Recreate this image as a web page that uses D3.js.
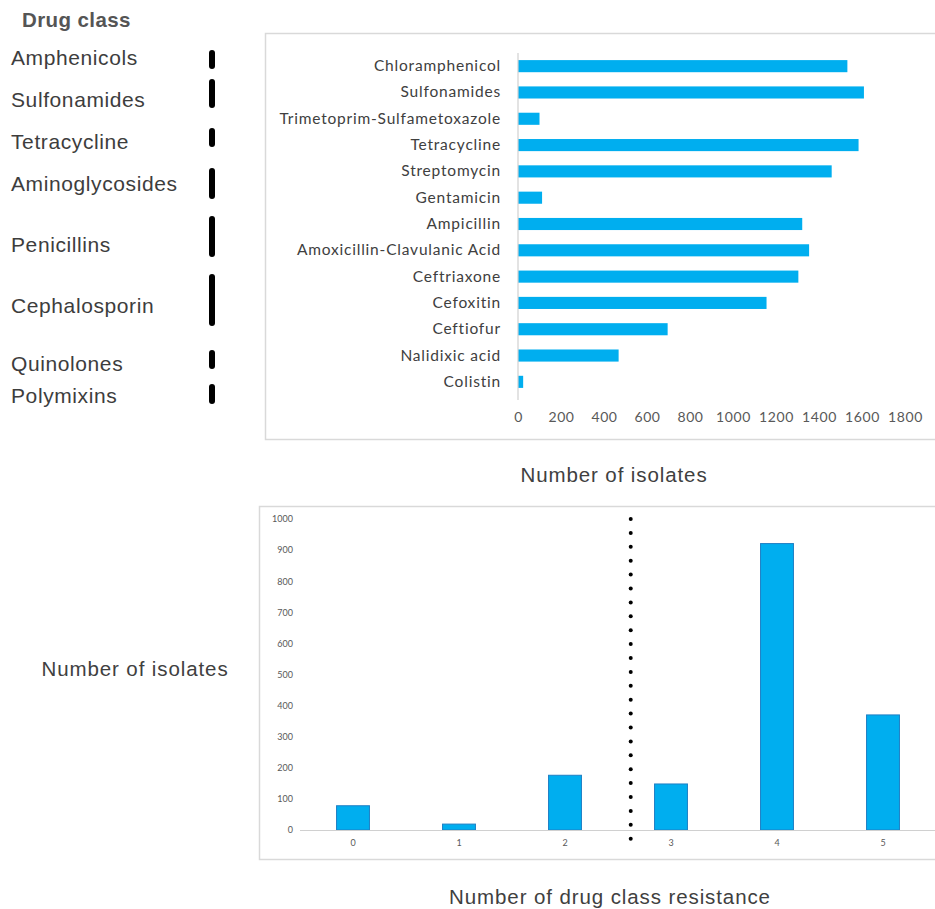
<!DOCTYPE html>
<html>
<head>
<meta charset="utf-8">
<script src="https://cdn.jsdelivr.net/npm/d3@7"></script>
<style>
  html, body { margin: 0; padding: 0; background: #fff; }
  svg { display: block; }
</style>
</head>
<body>
<svg id="chart" width="935" height="909"></svg>
<script>
// ---- Data ----
const drugs = [
  "Chloramphenicol", "Sulfonamides", "Trimetoprim-Sulfametoxazole", "Tetracycline",
  "Streptomycin", "Gentamicin", "Ampicillin", "Amoxicillin-Clavulanic Acid",
  "Ceftriaxone", "Cefoxitin", "Ceftiofur", "Nalidixic acid", "Colistin"
];
const drugIsolates = [1532, 1609, 100, 1584, 1459, 112, 1322, 1354, 1304, 1156, 696, 468, 24];
const drugTicks = [0, 200, 400, 600, 800, 1000, 1200, 1400, 1600, 1800];

const drugClasses = ["Amphenicols", "Sulfonamides", "Tetracycline", "Aminoglycosides",
  "Penicillins", "Cephalosporin", "Quinolones", "Polymixins"];

const resistanceCounts = ["0", "1", "2", "3", "4", "5"];
const resistanceIsolates = [78, 19, 176, 148, 921, 370];
const resistanceTicks = [0, 100, 200, 300, 400, 500, 600, 700, 800, 900, 1000];
const mdrThreshold = 2.62; // dotted separator between 2 and 3 classes

// ---- Layout ----
const BLUE = "#00AEEF";
const svg = d3.select("#chart");
const labelFont = "Lato, 'Open Sans', sans-serif";
const titleFont = "'Liberation Sans', Arial, sans-serif";
const plain = d3.format("d");

// Left-hand drug class key: label baseline and marker extent
const classLayout = [
  { y: 58, top: 50, bottom: 69 },
  { y: 100, top: 79, bottom: 108 },
  { y: 142, top: 128, bottom: 147 },
  { y: 184, top: 168, bottom: 199 },
  { y: 245, top: 216, bottom: 257 },
  { y: 306, top: 274, bottom: 326 },
  { y: 364, top: 350, bottom: 369 },
  { y: 396, top: 384, bottom: 404 }
];

svg.append("text")
  .attr("x", 22).attr("y", 27)
  .attr("font-family", titleFont).attr("font-weight", "bold")
  .attr("font-size", 20.5).attr("letter-spacing", 0.4).attr("fill", "#555")
  .text("Drug class");

const key = svg.append("g");
drugClasses.forEach((name, i) => {
  const l = classLayout[i];
  key.append("text")
    .attr("x", 11).attr("y", l.y).attr("dy", "0.35em")
    .attr("font-family", titleFont).attr("font-size", 21).attr("letter-spacing", 0.6)
    .attr("fill", "#3d3d3d")
    .text(name);
  key.append("line")
    .attr("x1", 212).attr("x2", 212)
    .attr("y1", l.top + 3).attr("y2", l.bottom - 3)
    .attr("stroke", "#000").attr("stroke-width", 6).attr("stroke-linecap", "round");
});

// ---- Top chart: isolates per drug ----
svg.append("rect")
  .attr("x", 265.5).attr("y", 33.5).attr("width", 680).attr("height", 406)
  .attr("fill", "none").attr("stroke", "#d9d9d9").attr("stroke-width", 1.5);

const xTop = d3.scaleLinear().domain([0, 1800]).range([518, 905]);
const yTop = d3.scaleBand().domain(drugs).range([53, 395]).paddingInner(0.54).paddingOuter(0.27);

svg.append("g").selectAll("rect").data(drugs).join("rect")
  .attr("x", xTop(0))
  .attr("y", d => yTop(d))
  .attr("width", (d, i) => xTop(drugIsolates[i]) - xTop(0))
  .attr("height", yTop.bandwidth())
  .attr("fill", BLUE);

svg.append("line")
  .attr("x1", xTop(0)).attr("x2", xTop(0)).attr("y1", 53).attr("y2", 400)
  .attr("stroke", "#d0d0d0").attr("stroke-width", 1.2);

const yAxisTop = svg.append("g")
  .attr("transform", `translate(${xTop(0)},0)`)
  .call(d3.axisLeft(yTop).tickSize(0).tickPadding(17));
yAxisTop.select(".domain").remove();
yAxisTop.selectAll("text")
  .attr("font-family", labelFont).attr("font-size", 15.5).attr("letter-spacing", 0.8)
  .attr("fill", "#404040");

const xAxisTop = svg.append("g")
  .attr("transform", "translate(0,410)")
  .call(d3.axisBottom(xTop).tickValues(drugTicks).tickFormat(plain).tickSize(0).tickPadding(2));
xAxisTop.select(".domain").remove();
xAxisTop.selectAll("text")
  .attr("font-family", labelFont).attr("font-size", 14).attr("letter-spacing", 0.6)
  .attr("fill", "#595959");

svg.append("text")
  .attr("x", 614).attr("y", 482).attr("text-anchor", "middle")
  .attr("font-family", titleFont).attr("font-size", 20.5).attr("letter-spacing", 0.9)
  .attr("fill", "#404040")
  .text("Number of isolates");

// ---- Bottom chart: isolates by number of resistant drug classes ----
svg.append("rect")
  .attr("x", 259.5).attr("y", 506.5).attr("width", 690).attr("height", 353)
  .attr("fill", "none").attr("stroke", "#d9d9d9").attr("stroke-width", 1.5);

const xBot = d3.scaleBand().domain(resistanceCounts).range([300, 936]).paddingInner(0.68).paddingOuter(0.34);
const yBot = d3.scaleLinear().domain([0, 1000]).range([830, 519]);

svg.append("g").selectAll("rect").data(resistanceCounts).join("rect")
  .attr("x", d => xBot(d) + 0.5)
  .attr("y", (d, i) => yBot(resistanceIsolates[i]))
  .attr("width", xBot.bandwidth() - 1)
  .attr("height", (d, i) => yBot(0) - yBot(resistanceIsolates[i]))
  .attr("fill", BLUE).attr("stroke", "#1f7fc4").attr("stroke-width", 1);

svg.append("line")
  .attr("x1", 300).attr("x2", 936).attr("y1", yBot(0) + 0.5).attr("y2", yBot(0) + 0.5)
  .attr("stroke", "#d0d0d0").attr("stroke-width", 1.2);

const yAxisBot = svg.append("g")
  .attr("transform", "translate(293,0)")
  .call(d3.axisLeft(yBot).tickValues(resistanceTicks).tickFormat(plain).tickSize(0).tickPadding(0));
yAxisBot.select(".domain").remove();
yAxisBot.selectAll("text")
  .attr("font-family", labelFont).attr("font-size", 9).attr("fill", "#595959");

const xAxisBot = svg.append("g")
  .attr("transform", `translate(0,${yBot(0) + 10})`)
  .call(d3.axisBottom(xBot).tickSize(0).tickPadding(0));
xAxisBot.select(".domain").remove();
xAxisBot.selectAll("text")
  .attr("font-family", labelFont).attr("font-size", 9).attr("fill", "#595959");

// Dotted separator
const step = xBot.step();
const sepX = xBot("0") + xBot.bandwidth() / 2 + mdrThreshold * step;
const dotYs = d3.range(519, 840, 13.9);
svg.append("g").selectAll("circle").data(dotYs).join("circle")
  .attr("cx", sepX).attr("cy", d => d).attr("r", 2).attr("fill", "#000");

svg.append("text")
  .attr("x", 135).attr("y", 676).attr("text-anchor", "middle")
  .attr("font-family", titleFont).attr("font-size", 20.5).attr("letter-spacing", 0.9)
  .attr("fill", "#404040")
  .text("Number of isolates");

svg.append("text")
  .attr("x", 610).attr("y", 904).attr("text-anchor", "middle")
  .attr("font-family", titleFont).attr("font-size", 20.5).attr("letter-spacing", 0.9)
  .attr("fill", "#404040")
  .text("Number of drug class resistance");
</script>
</body>
</html>
